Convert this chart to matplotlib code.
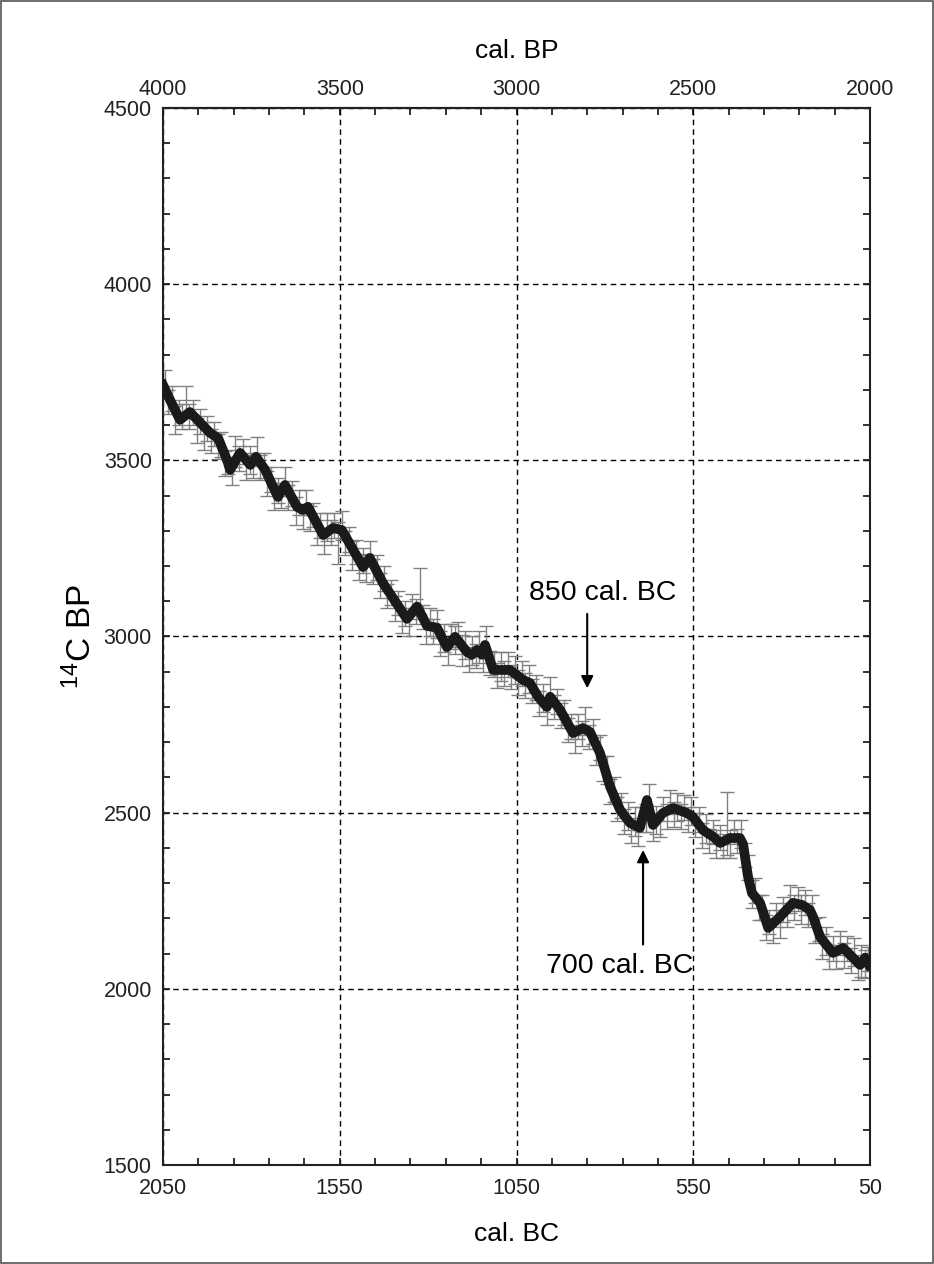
import matplotlib
matplotlib.use("Agg")
import matplotlib.pyplot as plt
from matplotlib.patches import Rectangle
from matplotlib.ticker import FixedLocator

plt.rcParams["font.family"] = ["Liberation Sans", "DejaVu Sans"]
plt.rcParams["mathtext.default"] = "regular"

# calibration curve (cal. BC, 14C BP)
curve_bc = [2050, 2030, 2002, 1974, 1917, 1894, 1869, 1860, 1832, 1803, 1787, 1761,
            1725, 1705, 1671, 1654, 1640, 1597, 1569, 1544, 1484, 1465, 1428, 1360,
            1331, 1303, 1275, 1247, 1224, 1190, 1176, 1162, 1148, 1139, 1116, 1068,
            1032, 1012, 989, 964, 955, 927, 890, 862, 842, 814, 785, 757, 729, 701,
            681, 664, 636, 607, 568, 551, 522, 494, 474, 446, 418, 409, 395, 384,
            361, 338, 305, 268, 242, 220, 211, 191, 155, 126, 101, 78, 64, 53]
curve_c14 = [3714, 3671, 3615, 3637, 3578, 3563, 3501, 3473, 3521, 3487, 3510, 3473,
             3396, 3430, 3368, 3359, 3368, 3288, 3308, 3302, 3197, 3223, 3152, 3050,
             3085, 3030, 3025, 2970, 2999, 2956, 2948, 2962, 2948, 2976, 2905, 2905,
             2877, 2868, 2829, 2800, 2829, 2792, 2726, 2740, 2729, 2670, 2573, 2508,
             2471, 2457, 2536, 2465, 2499, 2513, 2499, 2488, 2450, 2432, 2414, 2428,
             2428, 2410, 2318, 2272, 2244, 2173, 2204, 2244, 2238, 2224, 2204, 2147,
             2102, 2116, 2091, 2068, 2088, 2068]

# individual measurements with 1-sigma errors
meas_bc = [2045, 2035, 2025, 2015, 2005, 1995, 1985, 1975, 1965, 1955, 1945, 1935,
           1925, 1915, 1905, 1895, 1885, 1875, 1865, 1855, 1845, 1835, 1825, 1815,
           1805, 1795, 1785, 1775, 1765, 1755, 1745, 1735, 1725, 1715, 1705, 1695,
           1685, 1675, 1665, 1655, 1645, 1635, 1625, 1615, 1605, 1595, 1585, 1575,
           1565, 1555, 1545, 1535, 1525, 1515, 1505, 1495, 1485, 1475, 1465, 1455,
           1445, 1435, 1425, 1415, 1405, 1395, 1385, 1375, 1365, 1355, 1345, 1335,
           1323, 1315, 1305, 1295, 1285, 1275, 1265, 1255, 1245, 1235, 1225, 1215,
           1205, 1195, 1185, 1175, 1165, 1155, 1145, 1135, 1125, 1115, 1105, 1095,
           1085, 1075, 1065, 1055, 1045, 1035, 1025, 1015, 1005, 995, 985, 975,
           965, 955, 945, 935, 925, 915, 905, 895, 885, 875, 865, 855, 845, 835,
           825, 815, 805, 795, 785, 775, 765, 755, 745, 735, 725, 715, 705, 695,
           685, 675, 665, 655, 645, 635, 625, 615, 605, 595, 585, 575, 565, 555,
           545, 535, 525, 515, 505, 495, 485, 475, 465, 455, 445, 435, 425, 415,
           405, 395, 385, 375, 365, 355, 345, 335, 325, 315, 305, 295, 285, 275,
           265, 255, 245, 235, 225, 215, 205, 195, 185, 175, 165, 155, 145, 135,
           125, 115, 105, 95, 85, 75, 65, 55]
meas_c14 = [3715, 3665, 3675, 3615, 3635, 3625, 3670, 3625, 3635, 3585, 3610, 3570,
            3590, 3555, 3575, 3540, 3545, 3490, 3495, 3470, 3525, 3505, 3525, 3480,
            3500, 3485, 3525, 3480, 3485, 3435, 3445, 3395, 3415, 3400, 3440, 3395,
            3405, 3355, 3380, 3340, 3380, 3335, 3345, 3295, 3315, 3270, 3310, 3295,
            3315, 3265, 3315, 3265, 3275, 3230, 3240, 3195, 3215, 3195, 3235, 3185,
            3195, 3145, 3165, 3115, 3125, 3080, 3095, 3045, 3065, 3040, 3085, 3070,
            3130, 3055, 3015, 3040, 3015, 3035, 2980, 2995, 2955, 3000, 2990, 3005,
            2960, 2975, 2935, 2960, 2945, 2970, 2935, 2990, 2925, 2920, 2890, 2915,
            2895, 2920, 2885, 2905, 2870, 2895, 2860, 2880, 2845, 2855, 2810, 2825,
            2785, 2845, 2800, 2815, 2775, 2785, 2735, 2745, 2710, 2745, 2725, 2760,
            2715, 2730, 2675, 2685, 2625, 2620, 2560, 2565, 2510, 2520, 2475, 2490,
            2450, 2475, 2440, 2480, 2485, 2535, 2455, 2480, 2465, 2510, 2490, 2530,
            2495, 2515, 2490, 2515, 2480, 2505, 2465, 2480, 2435, 2455, 2420, 2445,
            2410, 2430, 2405, 2470, 2410, 2445, 2420, 2440, 2380, 2345, 2270, 2280,
            2230, 2230, 2175, 2190, 2165, 2210, 2185, 2225, 2210, 2255, 2230, 2255,
            2225, 2245, 2210, 2225, 2165, 2170, 2120, 2135, 2090, 2115, 2090, 2130,
            2095, 2115, 2080, 2105, 2060, 2080, 2070, 2085]
meas_err = [40, 35, 35, 40, 35, 35, 40, 35, 35, 35, 35, 40,
            35, 35, 35, 35, 35, 35, 35, 40, 45, 35, 35, 35,
            40, 35, 40, 35, 35, 35, 35, 35, 35, 35, 40, 35,
            35, 40, 35, 35, 35, 35, 35, 35, 35, 35, 40, 35,
            35, 60, 40, 35, 35, 40, 35, 35, 35, 40, 35, 35,
            35, 35, 35, 35, 35, 35, 35, 35, 35, 40, 35, 35,
            65, 35, 35, 40, 35, 40, 35, 40, 35, 35, 40, 35,
            45, 40, 35, 40, 35, 45, 35, 40, 35, 35, 35, 40,
            35, 35, 35, 40, 35, 35, 35, 40, 35, 35, 35, 40,
            35, 40, 35, 35, 35, 35, 35, 35, 40, 35, 35, 40,
            35, 35, 40, 35, 35, 40, 35, 35, 35, 35, 35, 40,
            35, 40, 35, 35, 40, 45, 35, 40, 35, 35, 35, 35,
            35, 40, 35, 35, 35, 40, 35, 35, 35, 40, 35, 35,
            40, 35, 35, 90, 40, 35, 35, 40, 35, 35, 40, 35,
            35, 35, 35, 35, 35, 35, 40, 35, 35, 40, 35, 35,
            40, 35, 35, 40, 35, 35, 35, 40, 35, 35, 35, 35,
            35, 35, 35, 40, 35, 45, 40, 35]

bc_major = [2050, 1550, 1050, 550, 50]
bp_major = [4000, 3500, 3000, 2500, 2000]
c14_major = [1500, 2000, 2500, 3000, 3500, 4000, 4500]


def bc_to_bp(x):
    return x + 1950


def bp_to_bc(x):
    return x - 1950


fig = plt.figure(figsize=(9.34, 12.64), dpi=100)
ax = fig.add_axes([0.1745, 0.0783, 0.757, 0.8363])

ax.errorbar(meas_bc, meas_c14, yerr=meas_err, fmt="none", ecolor="#808080",
            elinewidth=1.0, capsize=5, capthick=1.0, zorder=2)
ax.plot(curve_bc, curve_c14, color="#1a1a1a", lw=7, solid_joinstyle="round", zorder=3)

ax.set_xlim(2050, 50)
ax.set_ylim(1500, 4500)

ax.xaxis.set_major_locator(FixedLocator(bc_major))
ax.xaxis.set_minor_locator(FixedLocator(range(150, 2050, 100)))
ax.yaxis.set_major_locator(FixedLocator(c14_major))
ax.yaxis.set_minor_locator(FixedLocator(range(1600, 4500, 100)))
ax.tick_params(which="both", direction="in", length=5, width=1.3, right=True,
               labelsize=15.5, colors="#222222")
ax.tick_params(axis="x", pad=9)
ax.tick_params(axis="y", pad=8)

ax.grid(True, which="major", color="black", linestyle=(0, (4, 3)), lw=1.0)
for s in ax.spines.values():
    s.set_linewidth(1.5)
    s.set_color("#222222")

top = ax.secondary_xaxis("top", functions=(bc_to_bp, bp_to_bc))
top.xaxis.set_major_locator(FixedLocator(bp_major))
top.xaxis.set_minor_locator(FixedLocator(range(2100, 4000, 100)))
top.tick_params(which="both", direction="in", length=5, width=1.3, labelsize=15.5,
                pad=6, colors="#222222")
top.spines["top"].set_linewidth(1.5)
top.set_xlabel("cal. BP", fontsize=19, labelpad=15)

ax.set_xlabel("cal. BC", fontsize=19, labelpad=17)
ax.set_ylabel("$^{14}$C BP", fontsize=24, labelpad=4)

ax.annotate("", xy=(850, 2845), xytext=(850, 3072),
            arrowprops=dict(arrowstyle="-|>", color="black", lw=1.5, mutation_scale=18))
ax.text(805, 3124, "850 cal. BC", fontsize=20.5, ha="center", va="center")
ax.annotate("", xy=(692, 2402), xytext=(692, 2118),
            arrowprops=dict(arrowstyle="-|>", color="black", lw=1.5, mutation_scale=18))
ax.text(757, 2066, "700 cal. BC", fontsize=20.5, ha="center", va="center")

fig.patches.append(Rectangle((0.001, 0.001), 0.998, 0.998, transform=fig.transFigure,
                             fill=False, edgecolor="#555555", lw=1.2))

fig.savefig("out.png", dpi=100)
